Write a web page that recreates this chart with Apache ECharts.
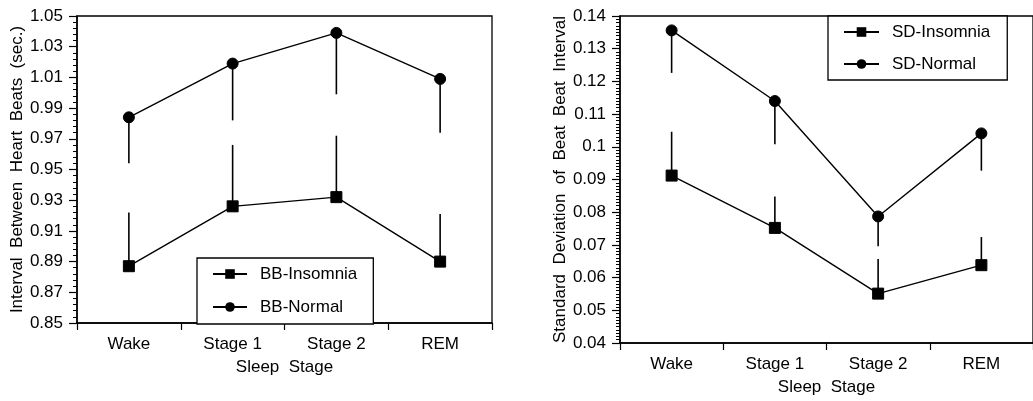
<!DOCTYPE html>
<html>
<head>
<meta charset="utf-8">
<script src="https://cdn.jsdelivr.net/npm/echarts@6/dist/echarts.min.js"></script>
<style>
html,body{margin:0;padding:0;background:#fff;}
#c{width:1033px;height:401px;}
</style>
</head>
<body>
<div id="c"></div>
<script>
// ---- data ----
const categories = ['Wake', 'Stage 1', 'Stage 2', 'REM'];

// Left panel: interval between heart beats (sec.)
const bbInsomnia = [0.887, 0.926, 0.932, 0.890];
const bbInsomniaUpper = [0.922, 0.966, 0.972, 0.921];
const bbNormal = [0.984, 1.019, 1.039, 1.009];
const bbNormalLower = [0.954, 0.982, 0.999, 0.974];

// Right panel: standard deviation of beat-beat interval
const sdInsomnia = [0.0912, 0.0752, 0.0551, 0.0638];
const sdInsomniaUpper = [0.1046, 0.0848, 0.0657, 0.0724];
const sdNormal = [0.1356, 0.1140, 0.0787, 0.1041];
const sdNormalLower = [0.1226, 0.1008, 0.0696, 0.0927];

const leftTicks = {min: 0.85, max: 1.05, interval: 0.02};
const rightTicks = {min: 0.04, max: 0.14, interval: 0.01};

// ---- helpers ----
const FONT = 'Liberation Sans';
const FS = 17;
const black = '#000';

function errData(vals, ends) {
  return vals.map((v, i) => [i, v, ends[i]]);
}
function errSeries(name, xi, yi, vals, ends) {
  return {
    name: name,
    type: 'custom',
    xAxisIndex: xi, yAxisIndex: yi,
    data: errData(vals, ends),
    silent: true,
    z: 1,
    renderItem: function (params, api) {
      const p1 = api.coord([api.value(0), api.value(1)]);
      const p2 = api.coord([api.value(0), api.value(2)]);
      return {
        type: 'line',
        shape: {x1: p1[0], y1: p1[1], x2: p2[0], y2: p2[1]},
        style: {stroke: black, lineWidth: 1.6}
      };
    }
  };
}
function lineSeries(name, xi, yi, vals, symbol, size) {
  return {
    name: name,
    type: 'line',
    xAxisIndex: xi, yAxisIndex: yi,
    data: vals,
    symbol: symbol,
    symbolSize: size,
    showAllSymbol: true,
    lineStyle: {color: black, width: 1.4},
    itemStyle: {color: black, borderColor: black},
    z: 3,
    animation: false
  };
}
function xAxisCfg(gi) {
  return {
    type: 'category',
    gridIndex: gi,
    data: categories,
    boundaryGap: true,
    name: 'Sleep  Stage',
    nameLocation: 'middle',
    nameGap: 36,
    nameTextStyle: {fontFamily: FONT, fontSize: FS, color: black},
    axisLine: {lineStyle: {color: black, width: 1.5}},
    axisTick: {show: true, length: 7, lineStyle: {color: black, width: 1.2}},
    axisLabel: {fontFamily: FONT, fontSize: FS, color: black, margin: 13},
    splitLine: {show: false}
  };
}
function yAxisCfg(gi, t, name, gap, minorSplit, fmt) {
  return {
    type: 'value',
    gridIndex: gi,
    min: t.min, max: t.max, interval: t.interval,
    name: name,
    nameLocation: 'middle',
    nameGap: gap,
    nameTextStyle: {fontFamily: FONT, fontSize: FS, color: black},
    axisLine: {show: true, lineStyle: {color: black, width: 1.5}},
    axisTick: {show: true, length: 8, lineStyle: {color: black, width: 1.2}},
    minorTick: {show: true, splitNumber: minorSplit, length: 4, lineStyle: {color: black, width: 1}},
    axisLabel: {fontFamily: FONT, fontSize: FS, color: black, margin: 14, formatter: fmt},
    splitLine: {show: false},
    minorSplitLine: {show: false}
  };
}

const chart = echarts.init(document.getElementById('c'), null, {renderer: 'canvas'});
chart.setOption({
  animation: false,
  backgroundColor: '#fff',
  grid: [
    {left: 77, top: 16, width: 415, height: 307, show: true, borderColor: black, borderWidth: 1.3, backgroundColor: 'transparent', containLabel: false},
    {left: 620, top: 16, width: 419, height: 328, show: true, borderColor: black, borderWidth: 1.3, backgroundColor: 'transparent', containLabel: false}
  ],
  xAxis: [xAxisCfg(0), xAxisCfg(1)],
  yAxis: [
    yAxisCfg(0, leftTicks, 'Interval  Between  Heart  Beats  (sec.)', 50, 5, v => v.toFixed(2)),
    yAxisCfg(1, rightTicks, 'Standard  Deviation  of  Beat  Beat  Interval', 49, 10, v => String(parseFloat(v.toFixed(3))))
  ],
  legend: [
    {
      data: ['BB-Insomnia', 'BB-Normal'],
      orient: 'vertical',
      left: 197, top: 258,
      padding: [6, 16, 7, 15],
      itemGap: 13,
      itemWidth: 34, itemHeight: 12,
      borderColor: black, borderWidth: 1.3,
      backgroundColor: '#fff',
      textStyle: {fontFamily: FONT, fontSize: 17, color: black, lineHeight: 20, padding: [0, 0, 0, 8]},
      selectedMode: false
    },
    {
      data: ['SD-Insomnia', 'SD-Normal'],
      orient: 'vertical',
      left: 828, top: 16,
      padding: [6, 17, 6, 15],
      itemGap: 12,
      itemWidth: 35, itemHeight: 12,
      borderColor: black, borderWidth: 1.3,
      backgroundColor: '#fff',
      textStyle: {fontFamily: FONT, fontSize: 17, color: black, lineHeight: 20, padding: [0, 0, 0, 8]},
      selectedMode: false
    }
  ],
  series: [
    errSeries('bbInsErr', 0, 0, bbInsomnia, bbInsomniaUpper),
    errSeries('bbNorErr', 0, 0, bbNormal, bbNormalLower),
    lineSeries('BB-Insomnia', 0, 0, bbInsomnia, 'rect', 11),
    lineSeries('BB-Normal', 0, 0, bbNormal, 'circle', 11),
    errSeries('sdInsErr', 1, 1, sdInsomnia, sdInsomniaUpper),
    errSeries('sdNorErr', 1, 1, sdNormal, sdNormalLower),
    lineSeries('SD-Insomnia', 1, 1, sdInsomnia, 'rect', 11),
    lineSeries('SD-Normal', 1, 1, sdNormal, 'circle', 11)
  ]
});
</script>
</body>
</html>
